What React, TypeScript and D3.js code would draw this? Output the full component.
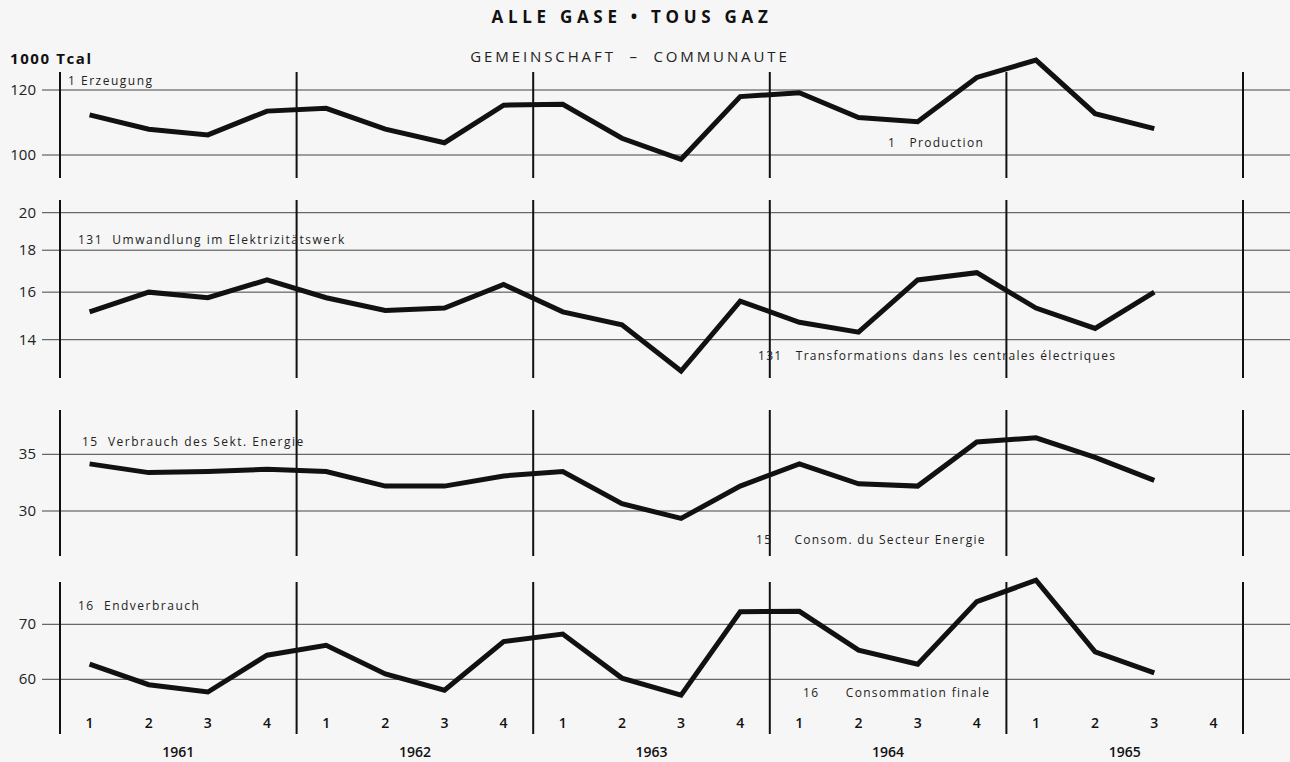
import React from "react";
import * as d3 from "d3";

const years = ["1961", "1962", "1963", "1964", "1965"];
const quarters = ["1", "2", "3", "4"];

const production = [111.9, 107.5, 105.8, 113.1, 114.0, 107.5, 103.5, 115.0, 115.3, 104.8, 98.8, 117.8, 119.1, 111.1, 109.8, 124.3, 130.5, 112.3, 107.7];
const transformation = [15.14, 16.0, 15.75, 16.56, 15.75, 15.2, 15.3, 16.35, 15.14, 14.6, 12.82, 15.6, 14.7, 14.3, 16.56, 16.9, 15.3, 14.45, 16.0];
const energySector = [34.1, 33.3, 33.4, 33.6, 33.4, 32.1, 32.1, 33.0, 33.4, 30.6, 29.4, 32.1, 34.1, 32.3, 32.1, 36.2, 36.6, 34.7, 32.6];
const finalConsumption = [62.6, 59.1, 57.9, 64.2, 66.0, 60.9, 58.2, 66.7, 68.1, 60.2, 57.4, 72.5, 72.6, 65.1, 62.6, 74.6, 79.2, 64.8, 61.1];

const ticks1 = [120, 100];
const ticks2 = [20, 18, 16, 14];
const ticks3 = [35, 30];
const ticks4 = [70, 60];

const labelsDE = ["1 Erzeugung", "131  Umwandlung im Elektrizitätswerk", "15  Verbrauch des Sekt. Energie", "16  Endverbrauch"];
const labelsFR = ["1   Production", "131   Transformations dans les centrales électriques", "15     Consom. du Secteur Energie", "16      Consommation finale"];

const FONT = "'Open Sans', 'DejaVu Sans', sans-serif";

type Panel = {
  data: number[];
  ticks: number[];
  anchor: [number, number, number, number];
  top: number;
  bottom: number;
  de: string;
  deXY: [number, number];
  fr: string;
  frXY: [number, number];
};

const panels: Panel[] = [
  { data: production, ticks: ticks1, anchor: [120, 90, 100, 155], top: 72, bottom: 178, de: labelsDE[0], deXY: [68, 85], fr: labelsFR[0], frXY: [888, 147] },
  { data: transformation, ticks: ticks2, anchor: [20, 212.7, 14, 339.7], top: 200, bottom: 378, de: labelsDE[1], deXY: [78, 244], fr: labelsFR[1], frXY: [758, 360] },
  { data: energySector, ticks: ticks3, anchor: [35, 454.3, 30, 511], top: 410, bottom: 556, de: labelsDE[2], deXY: [82, 446], fr: labelsFR[2], frXY: [756, 544] },
  { data: finalConsumption, ticks: ticks4, anchor: [70, 624.3, 60, 679.3], top: 582, bottom: 734, de: labelsDE[3], deXY: [78, 610], fr: labelsFR[3], frXY: [803, 697] },
];

export default function App() {
  const W = 1290;
  const H = 762;
  const x0 = 60;
  const x1 = 1243;
  const n = years.length * quarters.length;
  const x = d3.scaleLinear().domain([0, n]).range([x0, x1]);
  const qx = (i: number) => x(i + 0.5);
  const pre: React.CSSProperties = { whiteSpace: "pre" };

  return (
    <svg width={W} height={H} style={{ position: "absolute", left: 0, top: 0, background: "#f6f6f6" }} fontFamily={FONT}>
      <rect x={0} y={0} width={W} height={H} fill="#f6f6f6" />
      <text x={632} y={23} textAnchor="middle" fontSize={17} fontWeight={700} letterSpacing={4.7} fill="#111" style={pre}>ALLE GASE • TOUS GAZ</text>
      <text x={630} y={62} textAnchor="middle" fontSize={15} letterSpacing={2.9} fill="#222" style={pre}>GEMEINSCHAFT  –  COMMUNAUTE</text>
      <text x={10} y={64} fontSize={15} fontWeight={700} letterSpacing={1.6} fill="#111">1000 Tcal</text>

      {panels.map((p, pi) => {
        const y = d3.scaleLog().domain([p.anchor[0], p.anchor[2]]).range([p.anchor[1], p.anchor[3]]);
        const line = d3.line<number>().x((_, i) => qx(i)).y((d) => y(d)).curve(d3.curveLinear);
        return (
          <g key={pi}>
            {p.ticks.map((t) => (
              <g key={t}>
                <line x1={42} x2={1290} y1={y(t)} y2={y(t)} stroke="#444" strokeWidth={1} />
                <text x={36} y={y(t) + 5} textAnchor="end" fontSize={15} fill="#222">{t}</text>
              </g>
            ))}
            {d3.range(years.length + 1).map((k) => (
              <line key={k} x1={x(k * 4)} x2={x(k * 4)} y1={p.top} y2={p.bottom} stroke="#111" strokeWidth={2} />
            ))}
            <path d={line(p.data) || ""} fill="none" stroke="#111" strokeWidth={5} strokeLinejoin="miter" />
            <text x={p.deXY[0]} y={p.deXY[1]} fontSize={12} letterSpacing={1.5} fill="#222" style={pre}>{p.de}</text>
            <text x={p.frXY[0]} y={p.frXY[1]} fontSize={12} letterSpacing={1.3} fill="#222" style={pre}>{p.fr}</text>
          </g>
        );
      })}

      {d3.range(n).map((i) => (
        <text key={i} x={qx(i)} y={728} textAnchor="middle" fontSize={14} fontWeight={600} fill="#111">{quarters[i % 4]}</text>
      ))}
      {years.map((yr, k) => (
        <text key={yr} x={x(k * 4 + 2)} y={757} textAnchor="middle" fontSize={14} fontWeight={600} fill="#111">{yr}</text>
      ))}
    </svg>
  );
}
